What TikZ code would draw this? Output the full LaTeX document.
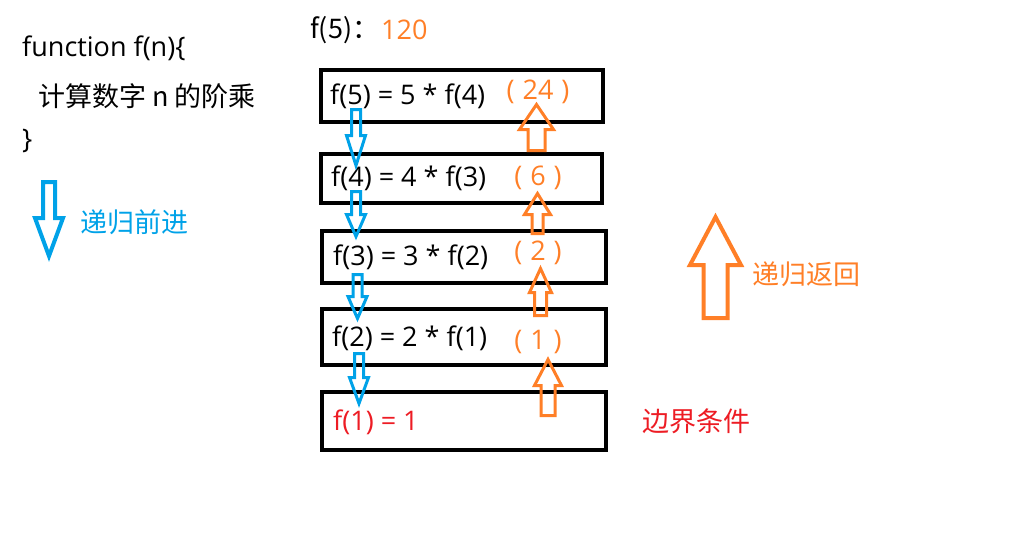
\documentclass[tikz,border=0pt]{standalone}
\usepackage{fontspec}
\setmainfont{Open Sans}
\newfontfamily\cjk{Noto Sans CJK SC}
\usetikzlibrary{positioning}

\definecolor{fwdblue}{RGB}{0,162,232}
\definecolor{retorange}{RGB}{255,127,39}
\definecolor{baseRed}{RGB}{237,28,36}

\begin{document}
\begin{tikzpicture}[x=1pt, y=-1pt, font=\fontsize{27}{31}\selectfont,
    frame/.style={draw, line width=4pt, inner sep=0pt},
    lbl/.style={anchor=west, inner sep=0pt},
    zh/.style={lbl, font=\fontsize{27}{31}\selectfont\cjk},
    fwdarrow/.style={color=fwdblue, line width=3pt},
    backarrow/.style={color=retorange, line width=3pt, rotate=180},
    % length / half shaft / half head / head length, pointing down from the tail
    pics/blockarrow/.style n args={4}{code={
      \draw (-#2,0) -- (#2,0) -- (#2,#1-#4) -- (#3,#1-#4) -- (0,#1)
        -- (-#3,#1-#4) -- (-#2,#1-#4) -- cycle;
    }}]
  \useasboundingbox (0,0) rectangle (1018,557);

  % the function
  \node[lbl] (fn) at (22,48) {function f(n)\{};
  \node[zh] (body) at (38,96) {计算数字 n 的阶乘};
  \node[lbl] (close) at (22,141) {\}};

  % result on top
  \node[zh] (top) at (310,30) {f(5)：};
  \node[lbl, text=retorange] (res) at (381,30) {120};

  % the five calls
  \foreach \n/\x/\y/\w/\h in {5/462/96/282/52, 4/461.5/178.5/281/49, 3/464/257/284/52,
      2/464/337/284/56, 1/464/421/284/58} {
    \node[frame, minimum width=\w, minimum height=\h] (box\n) at (\x,\y) {};
  }
  \foreach \n/\m/\x/\y in {5/4/330/96, 4/3/331/178, 3/2/333/257, 2/1/332/338} {
    \node[lbl] (t\n) at (\x,\y) {f(\n) = \n\ * f(\m)};
  }
  \node[lbl, text=baseRed] (t1) at (333,422) {f(1) = 1};
  \foreach \n/\v/\y in {5/24/92, 4/6/178, 3/2/253, 2/1/342} {
    \node[text=retorange, inner sep=0pt] (v\n) at (538,\y) {(\hspace{8pt}\v\hspace{8pt})};
  }

  % going down
  \pic[fwdarrow] (d1) at (356,109.5) {blockarrow={56}{4.5}{9.5}{30}};
  \pic[fwdarrow] (d2) at (356,191.5) {blockarrow={45}{4.5}{9.5}{22}};
  \pic[fwdarrow] (d3) at (357.5,274.5) {blockarrow={44}{4.5}{9.5}{22}};
  \pic[fwdarrow] (d4) at (359,353.5) {blockarrow={50}{4.5}{9.5}{26}};

  % coming back
  \pic[backarrow] (u1) at (536.5,150.5) {blockarrow={46}{8.5}{17}{25}};
  \pic[backarrow] (u2) at (537.5,233.5) {blockarrow={40}{5.5}{13}{21}};
  \pic[backarrow] (u3) at (540.5,315.5) {blockarrow={47}{6}{11}{24}};
  \pic[backarrow] (u4) at (548,415.5) {blockarrow={56}{7}{13.5}{26}};

  % legend
  \pic[fwdarrow, line width=4pt] (fwd) at (49,182) {blockarrow={74}{6}{14}{38}};
  \node[zh, text=fwdblue] (fwdtxt) at (80,222) {递归前进};
  \pic[backarrow, line width=4pt] (back) at (715.5,318) {blockarrow={101}{12}{25.5}{48}};
  \node[zh, text=retorange] (backtxt) at (752,274) {递归返回};
  \node[zh, text=baseRed] (base) at (642,421) {边界条件};
\end{tikzpicture}
\end{document}
